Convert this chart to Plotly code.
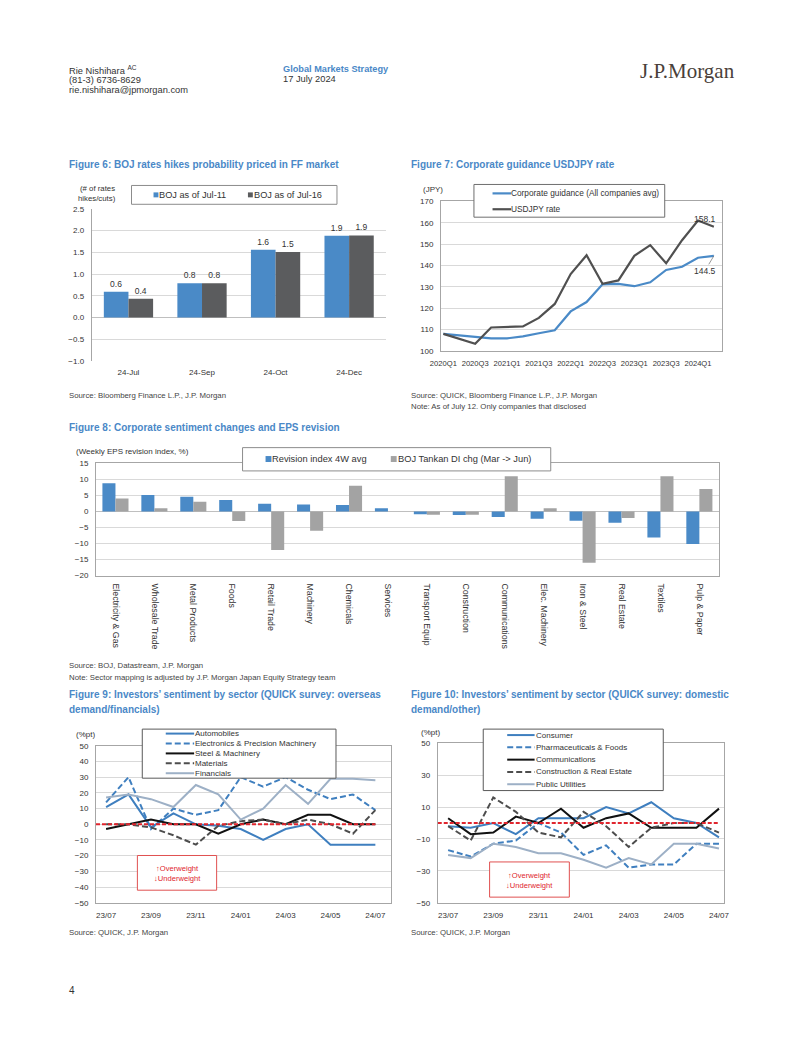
import plotly.graph_objects as go

# The page body has an 8px margin, so the figure itself is 786x1021 and
# all layout positions below are given in window pixels and converted.
PAGE_W, PAGE_H = 802, 1037
OFF = 8
W, H = PAGE_W - 2 * OFF, PAGE_H - 2 * OFF
FONT = "Liberation Sans, Arial, sans-serif"
TXT = "#333333"
SRC = "#444444"
TITLE_BLUE = "#4a88c7"
BAR_BLUE = "#4a8ac7"
BAR_DARK = "#5b5c5e"
BAR_GRAY = "#a3a3a3"
GRID = "#d9d9d9"
FRAME = "#a6a6a6"

# ---------------- data ----------------
f6_categories = ["24-Jul", "24-Sep", "24-Oct", "24-Dec"]
f6_jul11 = [0.59, 0.79, 1.56, 1.88]
f6_jul16 = [0.43, 0.79, 1.51, 1.89]
f6_names = ["BOJ as of Jul-11", "BOJ as of Jul-16"]

f7_quarters = ["2020Q1", "2020Q2", "2020Q3", "2020Q4", "2021Q1", "2021Q2", "2021Q3", "2021Q4",
               "2022Q1", "2022Q2", "2022Q3", "2022Q4", "2023Q1", "2023Q2", "2023Q3", "2023Q4",
               "2024Q1", "2024Q2"]
f7_guidance = [108.0, 107.3, 106.5, 105.9, 105.9, 106.8, 108.3, 109.7, 118.5, 122.9,
               131.2, 131.4, 130.3, 132.1, 137.9, 139.4, 143.6, 144.5]
f7_usdjpy = [108.0, 105.6, 103.4, 111.0, 111.4, 111.5, 115.5, 122.0, 136.0, 144.8,
             131.4, 133.0, 144.5, 149.5, 141.0, 151.8, 161.0, 158.1]
f7_names = ["Corporate guidance (All companies avg)", "USDJPY rate"]

f8_sectors = ["Electricity & Gas", "Wholesale Trade", "Metal Products", "Foods", "Retail Trade",
              "Machinery", "Chemicals", "Services", "Transport Equip", "Construction",
              "Communications", "Elec. Machinery", "Iron & Steel", "Real Estate", "Textiles",
              "Pulp & Paper"]
f8_revision = [8.8, 5.1, 4.6, 3.6, 2.4, 2.2, 2.0, 1.0, -0.9, -1.1, -1.7, -2.3, -2.9, -3.5, -8.1, -10.1]
f8_tankan = [4, 1, 3, -3, -12, -6, 8, 0, -1, -1, 11, 1, -16, -2, 11, 7]
f8_names = ["Revision index 4W avg", "BOJ Tankan DI chg (Mar -> Jun)"]

months = ["23/07", "23/08", "23/09", "23/10", "23/11", "23/12", "24/01",
          "24/02", "24/03", "24/04", "24/05", "24/06", "24/07"]
month_ticks = months[::2]

f9_names = ["Automobiles", "Electronics & Precision Machinery", "Steel & Machinery",
            "Materials", "Financials"]
f9_automobiles = [11, 19, -2, 7, 0, -1, -3, -10, -3, 0, -13, -13, -13]
f9_electronics = [14, 30, -3, 10, 6, 9, 30, 24, 30, 22, 16, 19, 9]
f9_steel = [-3, 0, 3, 0, 0, -6, 0, 3, 0, 6, 6, 0, 0]
f9_materials = [0, 0, -2, -7, -13, -1, 2, 3, 0, 3, 0, -6, 9]
f9_financials = [17, 19, 16, 11, 25, 19, 3, 10, 25, 13, 29, 29, 28]

f10_names = ["Consumer", "Pharmaceuticals & Foods", "Communications",
             "Construction & Real Estate", "Public Utilities"]
f10_consumer = [-2, -3, 0, -7, 3, 3, 3, 10, 6, 13, 3, 0, -9]
f10_pharma = [-17, -21, -13, -11, 0, -6, -20, -14, -28, -26, -26, -13, -13]
f10_comm = [3, -7, -6, 4, 0, 9, -3, 3, 6, -3, -3, -3, 9]
f10_construction = [-2, -11, 16, 7, -6, -9, 7, -2, -15, -3, 0, 0, -6]
f10_utilities = [-20, -22, -13, -15, -19, -19, -23, -28, -22, -26, -13, -13, -16]

# line styles
S_AUTO = dict(color="#3f7fbf", dash="solid", width=2)
S_ELEC = dict(color="#3f7fbf", dash="6px,3px", width=2)
S_STEEL = dict(color="#111111", dash="solid", width=2)
S_MAT = dict(color="#4d4d4d", dash="6px,3px", width=2)
S_FIN = dict(color="#9db0c6", dash="solid", width=2)
RED = "#e0262e"


def X(px):
    return (px - OFF) / W


def Y(py):
    return 1 - (py - OFF) / H


fig = go.Figure()
shapes = []
ann = []


def text(x, y, s, size=9.5, color=TXT, anchor="left", bold=False, family=FONT):
    if bold:
        s = "<b>" + s + "</b>"
    if anchor == "left":
        x -= 2
    ann.append(dict(x=X(x), y=Y(y), xref="paper", yref="paper", text=s, showarrow=False,
                    xanchor=anchor, yanchor="middle", align=anchor, borderpad=0,
                    font=dict(size=size, color=color, family=family)))


def rect(x0, y0, x1, y1, color, width=1, fill="white"):
    shapes.append(dict(type="rect", xref="paper", yref="paper", x0=X(x0), x1=X(x1),
                       y0=Y(y1), y1=Y(y0), line=dict(color=color, width=width),
                       fillcolor=fill, layer="above"))


def square(x0, y0, size, color):
    shapes.append(dict(type="rect", xref="paper", yref="paper", x0=X(x0), x1=X(x0 + size),
                       y0=Y(y0 + size), y1=Y(y0), fillcolor=color, line=dict(width=0),
                       layer="above"))


def hline(x0, x1, y, style):
    shapes.append(dict(type="line", xref="paper", yref="paper", x0=X(x0), x1=X(x1),
                       y0=Y(y), y1=Y(y), layer="above",
                       line=dict(color=style["color"], width=style["width"], dash=style["dash"])))


# ---------------- header ----------------
text(60, 67, "Rie Nishihara <sup>AC</sup>", 9.3)
text(60, 77, "(81-3) 6736-8629", 9.3)
text(60, 87, "rie.nishihara@jpmorgan.com", 9.3)
text(279, 66, "Global Markets Strategy", 9.2, TITLE_BLUE, bold=True)
text(279, 76, "17 July 2024", 9.3)
text(691, 68, "J.P.Morgan", 21, "#4a3f3a", anchor="center",
     family="Liberation Serif, DejaVu Serif, serif")
text(60, 995, "4", 10)

TITLE_SIZE = 10
SRC_SIZE = 7.8
TICK = dict(size=8, color=TXT, family=FONT)

# ---------------- Figure 6 ----------------
text(60, 162, "Figure 6: BOJ rates hikes probability priced in FF market", TITLE_SIZE, TITLE_BLUE, bold=True)
fig.add_trace(go.Bar(x=f6_categories, y=f6_jul11, name=f6_names[0], marker_color=BAR_BLUE,
                     texttemplate="%{y:.1f}", textposition="outside", cliponaxis=False,
                     textfont=dict(size=8.5, color=TXT, family=FONT), xaxis="x", yaxis="y"))
fig.add_trace(go.Bar(x=f6_categories, y=f6_jul16, name=f6_names[1], marker_color=BAR_DARK,
                     texttemplate="%{y:.1f}", textposition="outside", cliponaxis=False,
                     textfont=dict(size=8.5, color=TXT, family=FONT), xaxis="x", yaxis="y"))
text(88, 186, "(# of rates", 7.8, anchor="center")
text(88, 196, "hikes/cuts)", 7.8, anchor="center")
rect(123, 183, 333, 202, "#8c8c8c")
square(145.5, 190, 5, BAR_BLUE)
text(152, 192.5, f6_names[0], 9.2)
square(242, 190, 5, BAR_DARK)
text(249, 192.5, f6_names[1], 9.2)
text(60, 395, "Source: Bloomberg Finance L.P., J.P. Morgan", SRC_SIZE, SRC)

# ---------------- Figure 7 ----------------
text(410, 162, "Figure 7: Corporate guidance USDJPY rate", TITLE_SIZE, TITLE_BLUE, bold=True)
fig.add_trace(go.Scatter(x=f7_quarters, y=f7_guidance, mode="lines", name=f7_names[0],
                         line=dict(color=BAR_BLUE, width=2.2), xaxis="x2", yaxis="y2"))
fig.add_trace(go.Scatter(x=f7_quarters, y=f7_usdjpy, mode="lines", name=f7_names[1],
                         line=dict(color="#505050", width=2.2), xaxis="x2", yaxis="y2"))
text(431, 187, "(JPY)", 8, anchor="center")
rect(473, 182, 668, 215, "#6e6e6e")
hline(492, 511, 191, dict(color=BAR_BLUE, width=2.2, dash="solid"))
text(512, 191, f7_names[0], 8.3)
hline(492, 511, 207, dict(color="#505050", width=2.2, dash="solid"))
text(512, 207, f7_names[1], 8.3)
ann.append(dict(x=f7_quarters[-1], y=f7_usdjpy[-1], xref="x2", yref="y2", text="158.1",
                showarrow=False, xshift=-9, yshift=8, font=dict(size=8.5, color=TXT, family=FONT)))
ann.append(dict(x=f7_quarters[-1], y=f7_guidance[-1], xref="x2", yref="y2", text="144.5",
                showarrow=True, arrowhead=0, arrowwidth=0.8, arrowcolor="#7f7f7f", ax=-9, ay=15,
                font=dict(size=8.5, color=TXT, family=FONT)))
text(410, 395, "Source: QUICK, Bloomberg Finance L.P., J.P. Morgan", SRC_SIZE, SRC)
text(410, 406, "Note: As of July 12. Only companies that disclosed", SRC_SIZE, SRC)

# ---------------- Figure 8 ----------------
text(60, 427, "Figure 8: Corporate sentiment changes and EPS revision", TITLE_SIZE, TITLE_BLUE, bold=True)
fig.add_trace(go.Bar(x=f8_sectors, y=f8_revision, name=f8_names[0], marker_color=BAR_BLUE,
                     xaxis="x3", yaxis="y3"))
fig.add_trace(go.Bar(x=f8_sectors, y=f8_tankan, name=f8_names[1], marker_color=BAR_GRAY,
                     xaxis="x3", yaxis="y3"))
text(67, 451, "(Weekly EPS revision index, %)", 8)
rect(236.5, 447.5, 551.5, 471, "#8c8c8c")
square(260, 456, 6, BAR_BLUE)
text(268, 459, f8_names[0], 9.3)
square(388, 456, 6, BAR_GRAY)
text(396, 459, f8_names[1], 9.3)
text(60, 667, "Source: BOJ, Datastream, J.P. Morgan", SRC_SIZE, SRC)
text(60, 679, "Note: Sector mapping is adjusted by J.P. Morgan Japan Equity Strategy team", SRC_SIZE, SRC)

# ---------------- Figure 9 ----------------
text(60, 697, "Figure 9: Investors\u2019 sentiment by sector (QUICK survey: overseas", TITLE_SIZE, TITLE_BLUE, bold=True)
text(60, 712, "demand/financials)", TITLE_SIZE, TITLE_BLUE, bold=True)
f9_series = [f9_automobiles, f9_electronics, f9_steel, f9_materials, f9_financials]
f9_styles = [S_AUTO, S_ELEC, S_STEEL, S_MAT, S_FIN]
for name, vals, st in zip(f9_names, f9_series, f9_styles):
    fig.add_trace(go.Scatter(x=months, y=vals, mode="lines", name=name, line=st,
                             xaxis="x4", yaxis="y4"))
shapes.append(dict(type="line", xref="x4", yref="y4", x0=-0.45, x1=len(months) - 1, y0=0, y1=0,
                   line=dict(color=RED, width=2, dash="4px,2px"), layer="above"))
text(76, 737, "(%pt)", 8, anchor="center")
rect(134, 731.5, 332, 781, "#595959")
for i, (name, st) in enumerate(zip(f9_names, f9_styles)):
    yy = 736 + 10 * i
    hline(158, 187, yy, st)
    text(189, yy, name, 8)
rect(129, 859, 210, 894, "#e05050")
text(170, 872.5, "\u2191Overweight", 7.6, RED, anchor="center")
text(170, 882.5, "\u2193Underweight", 7.6, RED, anchor="center")
text(60, 937, "Source: QUICK, J.P. Morgan", SRC_SIZE, SRC)

# ---------------- Figure 10 ----------------
text(410, 697, "Figure 10: Investors\u2019 sentiment by sector (QUICK survey: domestic", TITLE_SIZE, TITLE_BLUE, bold=True)
text(410, 712, "demand/other)", TITLE_SIZE, TITLE_BLUE, bold=True)
f10_series = [f10_consumer, f10_pharma, f10_comm, f10_construction, f10_utilities]
f10_styles = [S_AUTO, S_ELEC, S_STEEL, S_MAT, S_FIN]
for name, vals, st in zip(f10_names, f10_series, f10_styles):
    fig.add_trace(go.Scatter(x=months, y=vals, mode="lines", name=name, line=st,
                             xaxis="x5", yaxis="y5"))
shapes.append(dict(type="line", xref="x5", yref="y5", x0=-0.46, x1=len(months) - 1, y0=0, y1=0,
                   line=dict(color=RED, width=2, dash="4px,2px"), layer="above"))
text(429, 735, "(%pt)", 8, anchor="center")
rect(482.5, 731.5, 666.5, 793.5, "#595959")
for i, (name, st) in enumerate(zip(f10_names, f10_styles)):
    yy = 737.5 + 12.4 * i
    hline(507, 535, yy, st)
    text(537, yy, name, 8)
rect(489, 865.5, 570.5, 901, "#e05050")
text(530, 879, "\u2191Overweight", 7.6, RED, anchor="center")
text(530, 889, "\u2193Underweight", 7.6, RED, anchor="center")
text(410, 937, "Source: QUICK, J.P. Morgan", SRC_SIZE, SRC)


# ---------------- axes ----------------
def yax(domain, anchor, rng, dtick, tick0=None, fmt=None, mirror=False, zeroline=False):
    d = dict(domain=[Y(domain[1]), Y(domain[0])], anchor=anchor, range=rng, dtick=dtick,
             showgrid=True, gridcolor=GRID, gridwidth=1, zeroline=zeroline,
             zerolinecolor="#bfbfbf", zerolinewidth=1, showline=True, linecolor=FRAME,
             linewidth=1, mirror=mirror, tickfont=TICK, ticks="", ticklabelstandoff=5,
             fixedrange=True)
    if tick0 is not None:
        d["tick0"] = tick0
    if fmt:
        d["tickformat"] = fmt
    return d


def xax(domain, anchor, mirror=False, showline=True, **kw):
    d = dict(domain=[X(domain[0]), X(domain[1])], anchor=anchor, type="category", showgrid=False,
             zeroline=False, showline=showline, linecolor=FRAME, linewidth=1, mirror=mirror,
             tickfont=TICK, ticks="", ticklabelstandoff=5, fixedrange=True)
    d.update(kw)
    return d


fig.update_layout(
    width=W, height=H, autosize=False,
    margin=dict(l=0, r=0, t=0, b=0),
    paper_bgcolor="white", plot_bgcolor="white",
    showlegend=False,
    font=dict(family=FONT, color=TXT),
    barmode="group", bargap=0.33, bargroupgap=0.0,
    xaxis=xax((82.3, 383), "y", showline=False),
    yaxis=yax((206.7, 360), "x", [-1, 2.5], 0.5, fmt=".1f", zeroline=True),
    xaxis2=xax((439.3, 726.7), "y2", mirror=True, range=[-0.15, 17.52],
               tickmode="array", tickvals=f7_quarters[::2], ticktext=f7_quarters[::2],
               tickfont=dict(size=7.6, color=TXT, family=FONT), tickangle=0),
    yaxis2=yax((199, 350), "x2", [100, 170], 10, mirror=True),
    xaxis3=xax((86.7, 723.3), "y3", mirror=True, tickangle=90,
               tickfont=dict(size=8.8, color=TXT, family=FONT)),
    yaxis3=yax((463.3, 576.7), "x3", [-20, 15], 5, mirror=True, zeroline=True),
    xaxis4=xax((86.7, 388.3), "y4", mirror=True, range=[-0.45, 12.7],
               tickmode="array", tickvals=month_ticks, ticktext=month_ticks),
    yaxis4=yax((748.3, 906.7), "x4", [-50, 50], 10, mirror=True),
    xaxis5=xax((436, 728.3), "y5", mirror=True, range=[-0.46, 12.21],
               tickmode="array", tickvals=month_ticks, ticktext=month_ticks),
    yaxis5=yax((745.7, 906.7), "x5", [-50, 50], 20, tick0=-50, mirror=True),
    shapes=shapes,
    annotations=ann,
)
fig.update_traces(selector=dict(type="bar"), marker_line_width=0)

fig.write_html("out.html")
